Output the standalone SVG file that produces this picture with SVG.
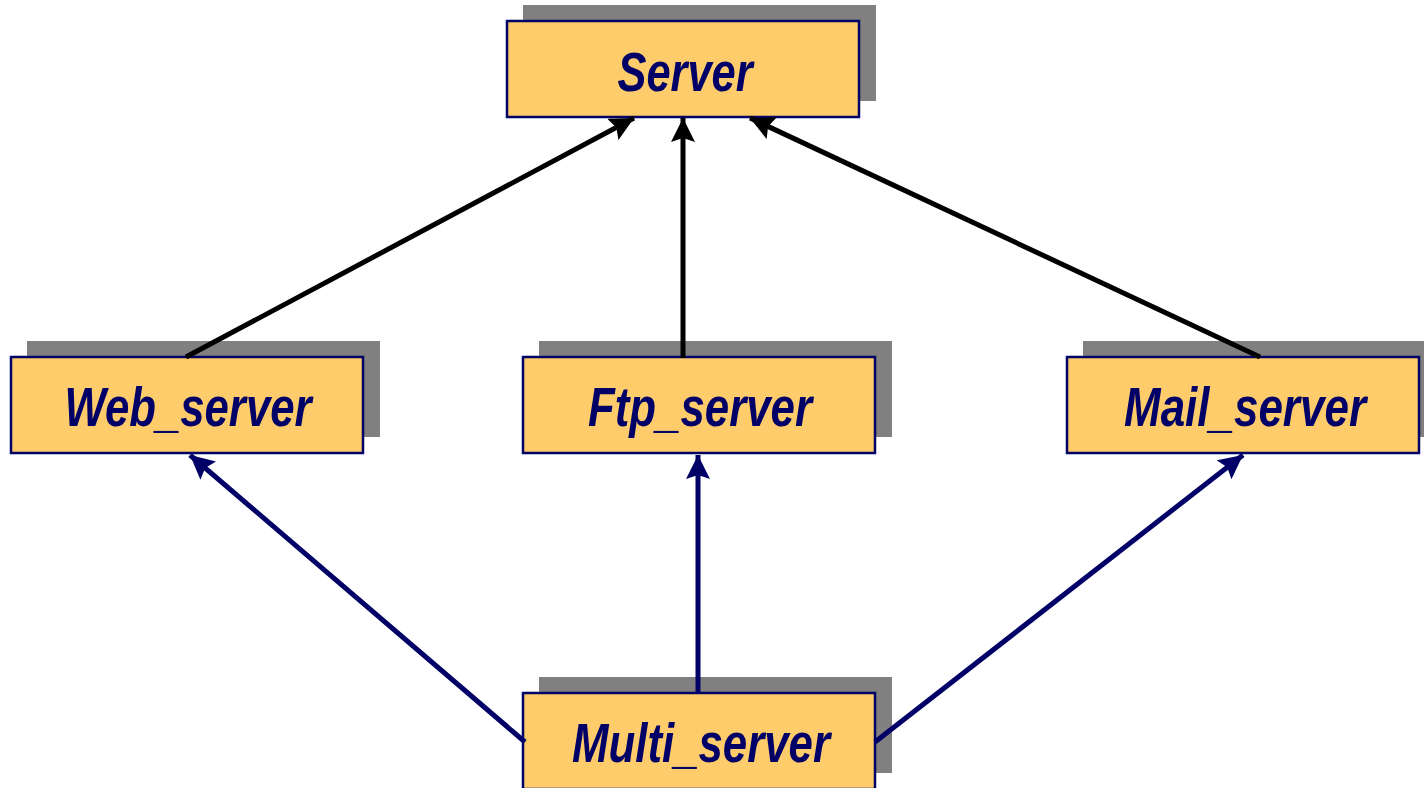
<svg xmlns="http://www.w3.org/2000/svg" width="1424" height="788" viewBox="0 0 1424 788">
<style>
.shadow{fill:#808080}
.box{fill:#FECC6A;stroke:#000066;stroke-width:2.5}
.lbl{font-family:"Liberation Sans",Arial,sans-serif;font-weight:bold;font-style:italic;font-size:56px;fill:#000066;text-anchor:middle}
.blk{stroke:#000;stroke-width:5;fill:none}
.nav{stroke:#000066;stroke-width:5;fill:none}
</style>
<defs>
<marker id="ab" markerUnits="userSpaceOnUse" markerWidth="30" markerHeight="30" refX="24" refY="12" orient="auto" viewBox="0 0 30 30">
<path d="M0,0 L24,12 L0,24 L4,12 z" fill="#000"/>
</marker>
<marker id="an" markerUnits="userSpaceOnUse" markerWidth="30" markerHeight="30" refX="24" refY="12" orient="auto" viewBox="0 0 30 30">
<path d="M0,0 L24,12 L0,24 L4,12 z" fill="#000066"/>
</marker>
</defs>
<rect width="1424" height="788" fill="#fff"/>
<g id="server">
<rect class="shadow" x="523" y="5" width="353" height="96"/>
<rect class="box" x="507" y="21" width="352" height="96"/>
<text class="lbl" x="685" y="91" textLength="135" lengthAdjust="spacingAndGlyphs">Server</text>
</g>
<g id="web_server">
<rect class="shadow" x="27" y="341" width="353" height="96"/>
<rect class="box" x="11" y="357" width="352" height="96"/>
<text class="lbl" x="188" y="426" textLength="247" lengthAdjust="spacingAndGlyphs">Web_server</text>
</g>
<g id="ftp_server">
<rect class="shadow" x="539" y="341" width="353" height="96"/>
<rect class="box" x="523" y="357" width="352" height="96"/>
<text class="lbl" x="700" y="426" textLength="224" lengthAdjust="spacingAndGlyphs">Ftp_server</text>
</g>
<g id="mail_server">
<rect class="shadow" x="1083" y="341" width="341" height="96"/>
<rect class="box" x="1067" y="357" width="352" height="96"/>
<text class="lbl" x="1245" y="426" textLength="242" lengthAdjust="spacingAndGlyphs">Mail_server</text>
</g>
<g id="multi_server">
<rect class="shadow" x="539" y="677" width="353" height="96"/>
<rect class="box" x="523" y="693" width="352" height="96"/>
<text class="lbl" x="701" y="762" textLength="258" lengthAdjust="spacingAndGlyphs">Multi_server</text>
</g>
<g id="connectors">
<line class="blk" x1="186" y1="357" x2="634" y2="118" marker-end="url(#ab)"/>
<line class="blk" x1="683" y1="358" x2="683" y2="118" marker-end="url(#ab)"/>
<line class="blk" x1="1260" y1="357" x2="750" y2="118" marker-end="url(#ab)"/>
<line class="nav" x1="525" y1="742" x2="190" y2="455" marker-end="url(#an)"/>
<line class="nav" x1="698" y1="694" x2="698" y2="455" marker-end="url(#an)"/>
<line class="nav" x1="875" y1="742" x2="1243" y2="455" marker-end="url(#an)"/>
</g>
</svg>
